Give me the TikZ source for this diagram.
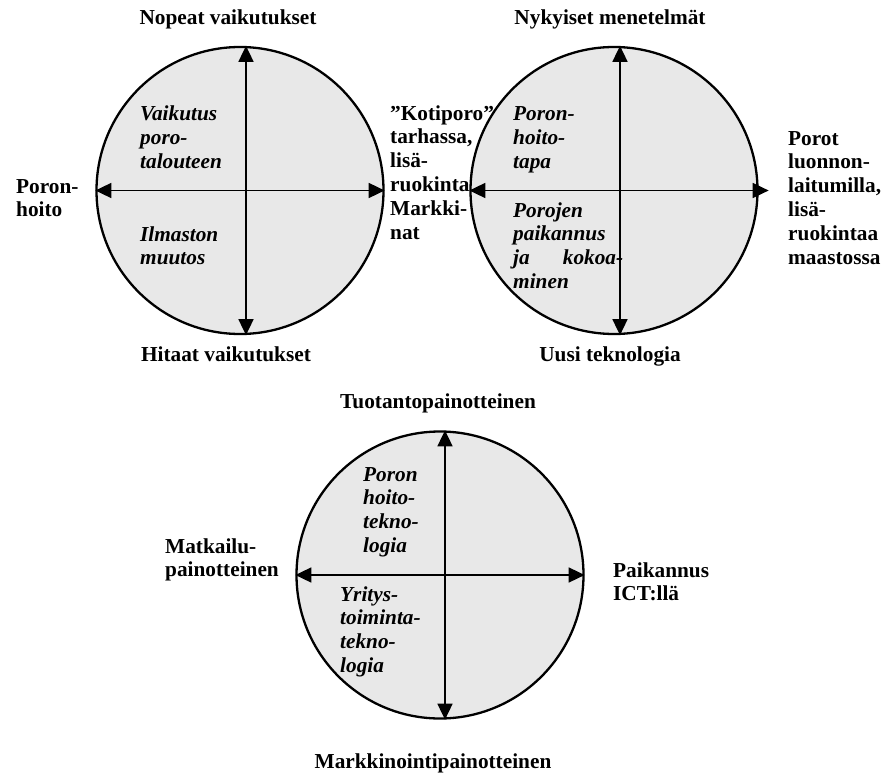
\documentclass[tikz,border=0pt]{standalone}
\usepackage{fontspec}
\setmainfont{Liberation Serif}
\usepackage{xcolor}
\usetikzlibrary{arrows.meta}

\definecolor{harmaa}{RGB}{232,232,232}
\tikzset{
  ympyra/.style={circle, draw, line width=2.3pt, fill=harmaa, minimum size=287pt, inner sep=0pt},
  akseli/.style={line width=1.6pt, {Triangle[length=16pt,width=15pt]}-{Triangle[length=16pt,width=15pt]}},
  otsikko/.style={font=\fontsize{21.3}{23.8}\selectfont\bfseries, inner sep=0pt, anchor=base},
  selite/.style={font=\fontsize{21.3}{23.8}\selectfont\bfseries, inner sep=0pt, anchor=base west, align=left},
  sisa/.style={font=\fontsize{21.3}{23.8}\selectfont\bfseries\itshape, inner sep=0pt, anchor=base west, align=left},
}

\begin{document}
\begin{tikzpicture}[x=1pt,y=1pt]
  \useasboundingbox (0,0) rectangle (888,-778);

  % 放置三个圆
  \node[ympyra] (k1) at (240,-190.5) {};
  \node[ympyra] (k2) at (614,-190.5) {};
  \node[ympyra] (k3) at (440,-575) {};

  % 画坐标轴
  \draw[akseli] ([xshift=6pt]k1.north) -- ([xshift=6pt]k1.south);
  \draw[akseli] (k1.west) -- (k1.east);
  \draw[akseli] ([xshift=6pt]k2.north) -- ([xshift=6pt]k2.south);
  \draw[akseli] (k2.west) -- ([xshift=10pt]k2.east);
  \draw[akseli] ([xshift=5pt]k3.north) -- ([xshift=5pt]k3.south);
  \draw[akseli] (k3.west) -- (k3.east);

  % 第一个圆的标签（多行标签按最后一行的基线放置）
  \node[otsikko] (n1) at (228,-25) {Nopeat vaikutukset};
  \node[otsikko] (h1) at (226,-361) {Hitaat vaikutukset};
  \node[selite] (v1) at (16,-216.8) {Poron-\\hoito};
  \node[selite] (o1) at (390,-239) {”Kotiporo”\\tarhassa,\\lisä-\\ruokinta\\Markki-\\nat};
  \node[sisa] (i1) at (140,-168.6) {Vaikutus\\poro-\\talouteen};
  \node[sisa] (i2) at (140,-264.8) {Ilmaston\\muutos};

  % 第二个圆的标签
  \node[otsikko] (n2) at (610,-25) {Nykyiset menetelmät};
  \node[otsikko] (h2) at (610,-361) {Uusi teknologia};
  \node[selite] (o2) at (788,-264) {Porot\\luonnon-\\laitumilla,\\lisä-\\ruokintaa\\maastossa};
  \node[sisa] (i3) at (513,-168.6) {Poron-\\hoito-\\tapa};
  \node[sisa] (i4) at (513,-288.4) {Porojen\\paikannus\\\hbox to 110pt{ja\hfill kokoa-}\\minen};

  % 第三个圆的标签
  \node[otsikko] (n3) at (438,-408) {Tuotantopainotteinen};
  \node[otsikko] (h3) at (433,-768) {Markkinointipainotteinen};
  \node[selite] (v3) at (165,-576.8) {Matkailu-\\painotteinen};
  \node[selite] (o3) at (613,-600.8) {Paikannus\\ICT:llä};
  \node[sisa] (i5) at (363,-552.4) {Poron\\hoito-\\tekno-\\logia};
  \node[sisa] (i6) at (340,-672.4) {Yritys-\\toiminta-\\tekno-\\logia};
\end{tikzpicture}
\end{document}
